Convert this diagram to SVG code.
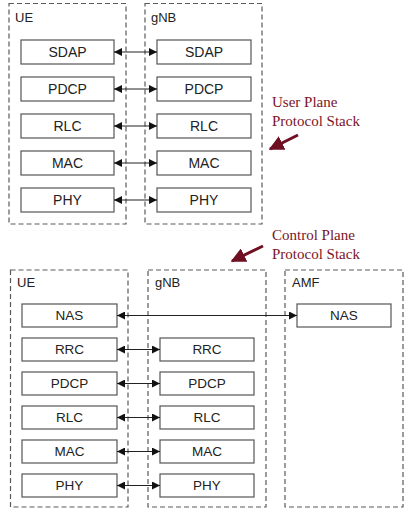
<svg xmlns="http://www.w3.org/2000/svg" width="412" height="512" viewBox="0 0 412 512">
<defs>
<style>
.grp{fill:none;stroke:#5a5a5a;stroke-width:1.2;stroke-dasharray:5,3}
.box rect{fill:#fff;stroke:#555;stroke-width:1.2}
text{font-family:"Liberation Sans",Arial,sans-serif;font-size:13px;fill:#222}
.box text{text-anchor:middle}
.up text{font-size:14px}
.cp text{font-size:13.5px}
.note{font-family:"Liberation Serif","Times New Roman",serif;font-size:15px;fill:#7a1428}
.conn line{stroke:#222;stroke-width:1}
</style>
<marker id="ah" viewBox="0 0 8 8" refX="8" refY="4" markerWidth="8" markerHeight="8" markerUnits="userSpaceOnUse" orient="auto-start-reverse">
<path d="M0,0 L8,4 L0,8 z" fill="#111"/>
</marker>
<marker id="rh" viewBox="0 0 10 10" refX="9" refY="5" markerWidth="5" markerHeight="5" orient="auto">
<path d="M0,0 L10,5 L0,10 z" fill="#6e0f22"/>
</marker>
</defs>
<rect width="412" height="512" fill="#fff"/>

<!-- User plane -->
<g id="up-ue"><rect class="grp" x="9" y="3.5" width="117" height="220.5"/><text x="15" y="22">UE</text></g>
<g id="up-gnb"><rect class="grp" x="145" y="3.5" width="117" height="220.5"/><text x="151" y="22">gNB</text></g>
<g id="up-ue-sdap" class="box up"><rect x="21" y="40" width="93" height="24"/><text x="67.5" y="57">SDAP</text></g>
<g id="up-ue-pdcp" class="box up"><rect x="21" y="77" width="93" height="24"/><text x="67.5" y="94">PDCP</text></g>
<g id="up-ue-rlc" class="box up"><rect x="21" y="114" width="93" height="24"/><text x="67.5" y="131">RLC</text></g>
<g id="up-ue-mac" class="box up"><rect x="21" y="151" width="93" height="24"/><text x="67.5" y="168">MAC</text></g>
<g id="up-ue-phy" class="box up"><rect x="21" y="188" width="93" height="24"/><text x="67.5" y="205">PHY</text></g>
<g id="up-gnb-sdap" class="box up"><rect x="157" y="40" width="94" height="24"/><text x="204" y="57">SDAP</text></g>
<g id="up-gnb-pdcp" class="box up"><rect x="157" y="77" width="94" height="24"/><text x="204" y="94">PDCP</text></g>
<g id="up-gnb-rlc" class="box up"><rect x="157" y="114" width="94" height="24"/><text x="204" y="131">RLC</text></g>
<g id="up-gnb-mac" class="box up"><rect x="157" y="151" width="94" height="24"/><text x="204" y="168">MAC</text></g>
<g id="up-gnb-phy" class="box up"><rect x="157" y="188" width="94" height="24"/><text x="204" y="205">PHY</text></g>

<!-- Control plane -->
<g id="cp-ue"><rect class="grp" x="10.5" y="270" width="117.5" height="237"/><text x="17" y="287">UE</text></g>
<g id="cp-gnb"><rect class="grp" x="148" y="270" width="118" height="237"/><text x="155" y="287">gNB</text></g>
<g id="cp-amf"><rect class="grp" x="285" y="270" width="118" height="237"/><text x="292" y="287">AMF</text></g>
<g id="cp-ue-nas" class="box cp"><rect x="22" y="304" width="95" height="23"/><text x="69.5" y="320">NAS</text></g>
<g id="cp-ue-rrc" class="box cp"><rect x="22" y="338" width="95" height="23"/><text x="69.5" y="354">RRC</text></g>
<g id="cp-ue-pdcp" class="box cp"><rect x="22" y="372" width="95" height="23"/><text x="69.5" y="388">PDCP</text></g>
<g id="cp-ue-rlc" class="box cp"><rect x="22" y="406" width="95" height="23"/><text x="69.5" y="422">RLC</text></g>
<g id="cp-ue-mac" class="box cp"><rect x="22" y="440" width="95" height="23"/><text x="69.5" y="456">MAC</text></g>
<g id="cp-ue-phy" class="box cp"><rect x="22" y="474" width="95" height="23"/><text x="69.5" y="490">PHY</text></g>
<g id="cp-gnb-rrc" class="box cp"><rect x="160" y="338" width="94" height="23"/><text x="207" y="354">RRC</text></g>
<g id="cp-gnb-pdcp" class="box cp"><rect x="160" y="372" width="94" height="23"/><text x="207" y="388">PDCP</text></g>
<g id="cp-gnb-rlc" class="box cp"><rect x="160" y="406" width="94" height="23"/><text x="207" y="422">RLC</text></g>
<g id="cp-gnb-mac" class="box cp"><rect x="160" y="440" width="94" height="23"/><text x="207" y="456">MAC</text></g>
<g id="cp-gnb-phy" class="box cp"><rect x="160" y="474" width="94" height="23"/><text x="207" y="490">PHY</text></g>
<g id="cp-amf-nas" class="box cp"><rect x="297" y="304" width="94" height="23"/><text x="344" y="320">NAS</text></g>

<!-- Annotations -->
<g id="note-up">
<text class="note" x="272" y="107">User Plane</text>
<text class="note" x="272" y="126">Protocol Stack</text>
<line x1="298" y1="135" x2="270" y2="149" stroke="#6e0f22" stroke-width="3" marker-end="url(#rh)"/>
</g>
<g id="note-cp">
<text class="note" x="272" y="240">Control Plane</text>
<text class="note" x="272" y="258.5">Protocol Stack</text>
<line x1="263" y1="246" x2="232" y2="261" stroke="#6e0f22" stroke-width="3" marker-end="url(#rh)"/>
</g>

<g id="connectors" class="conn">
<line x1="114" y1="52" x2="157" y2="52" marker-start="url(#ah)" marker-end="url(#ah)"/>
<line x1="114" y1="89" x2="157" y2="89" marker-start="url(#ah)" marker-end="url(#ah)"/>
<line x1="114" y1="126" x2="157" y2="126" marker-start="url(#ah)" marker-end="url(#ah)"/>
<line x1="114" y1="163" x2="157" y2="163" marker-start="url(#ah)" marker-end="url(#ah)"/>
<line x1="114" y1="200" x2="157" y2="200" marker-start="url(#ah)" marker-end="url(#ah)"/>
<line x1="117" y1="315.5" x2="297" y2="315.5" marker-start="url(#ah)" marker-end="url(#ah)"/>
<line x1="117" y1="349.5" x2="160" y2="349.5" marker-start="url(#ah)" marker-end="url(#ah)"/>
<line x1="117" y1="383.5" x2="160" y2="383.5" marker-start="url(#ah)" marker-end="url(#ah)"/>
<line x1="117" y1="417.5" x2="160" y2="417.5" marker-start="url(#ah)" marker-end="url(#ah)"/>
<line x1="117" y1="451.5" x2="160" y2="451.5" marker-start="url(#ah)" marker-end="url(#ah)"/>
<line x1="117" y1="485.5" x2="160" y2="485.5" marker-start="url(#ah)" marker-end="url(#ah)"/>
</g>
</svg>
